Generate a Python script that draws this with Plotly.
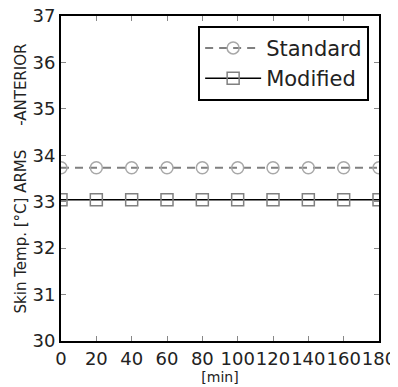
import plotly.graph_objects as go

time_min = [0, 20, 40, 60, 80, 100, 120, 140, 160, 180]
standard = [33.73] * 10
modified = [33.04] * 10
x_ticks = [0, 20, 40, 60, 80, 100, 120, 140, 160, 180]
y_ticks = [30, 31, 32, 33, 34, 35, 36, 37]

fig = go.Figure()
fig.add_trace(go.Scatter(
    x=time_min, y=standard, name="Standard", mode="lines+markers",
    line=dict(color="#808080", width=2, dash="8px,6px"),
    marker=dict(symbol="circle-open", size=12, color="#a8a8a8", line=dict(width=1.5)),
))
fig.add_trace(go.Scatter(
    x=time_min, y=modified, name="Modified", mode="lines+markers",
    line=dict(color="#000000", width=1.5),
    marker=dict(symbol="square-open", size=12, color="#808080", line=dict(width=1.5)),
))

axis_common = dict(
    showgrid=False, zeroline=False, showline=True, linecolor="black", linewidth=2,
    mirror="allticks", ticks="inside", ticklen=5, tickwidth=1, tickcolor="#888",
    tickfont=dict(family="DejaVu Sans", size=18, color="#222"),
    automargin=False, tickangle=0,
)
fig.update_xaxes(range=[0, 180], tickvals=x_ticks, ticktext=[str(v) for v in x_ticks],
                 title=dict(text="[min]", font=dict(family="DejaVu Sans", size=14, color="#222"), standoff=5),
                 **axis_common)
fig.update_yaxes(range=[30, 37], tickvals=y_ticks, ticktext=[str(v) for v in y_ticks],
                 title=dict(text="Skin Temp. [°C] ARMS" + "\u00a0" * 5 + "-ANTERIOR",
                            font=dict(family="DejaVu Sans", size=15, color="#222"), standoff=2),
                 **axis_common)

fig.update_layout(
    width=390, height=379,
    margin=dict(l=53, r=19, t=8, b=46),
    paper_bgcolor="white", plot_bgcolor="white",
    showlegend=True,
    legend=dict(x=0.969, y=0.97, xanchor="right", yanchor="top",
                bordercolor="black", borderwidth=2, bgcolor="white",
                font=dict(family="DejaVu Sans", size=21, color="#222"),
                itemwidth=56),
)

fig.write_html("out.html")
